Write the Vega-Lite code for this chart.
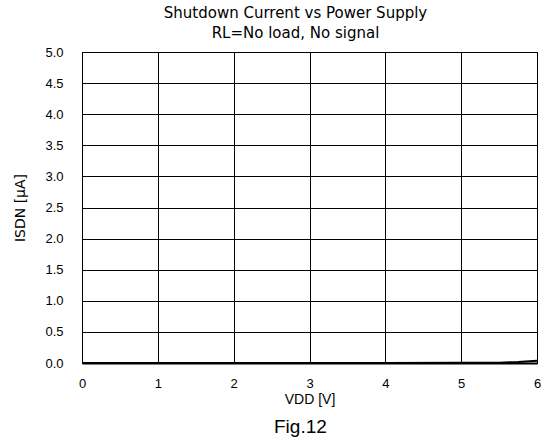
{
  "$schema": "https://vega.github.io/schema/vega-lite/v6.json",
  "width": 455,
  "height": 311,
  "autosize": {"type": "none"},
  "padding": {"left": 82, "top": 52, "right": 6, "bottom": 80},
  "background": "white",
  "title": {
    "text": ["Shutdown Current vs Power Supply", "RL=No load, No signal"],
    "font": "DejaVu Sans",
    "fontSize": 15,
    "fontWeight": "normal",
    "lineHeight": 20,
    "color": "black",
    "anchor": "middle",
    "offset": 5,
    "dx": -14
  },
  "config": {
    "view": {"stroke": "black", "strokeWidth": 1},
    "axis": {
      "labelFont": "Liberation Sans",
      "labelFontSize": 13,
      "labelColor": "black",
      "labelOverlap": false,
      "labelFlush": false,
      "titleFont": "DejaVu Sans",
      "titleFontSize": 14,
      "titleFontWeight": "normal",
      "titleColor": "black",
      "grid": true,
      "gridColor": "black",
      "gridOpacity": 1,
      "gridWidth": 1,
      "tickSize": 0,
      "domainColor": "black"
    }
  },
  "layer": [
    {
      "data": {
        "values": [
          {"vdd": 0, "isdn": 0.0},
          {"vdd": 1, "isdn": 0.0},
          {"vdd": 2, "isdn": 0.0},
          {"vdd": 3, "isdn": 0.0},
          {"vdd": 4, "isdn": 0.001},
          {"vdd": 5, "isdn": 0.003},
          {"vdd": 5.5, "isdn": 0.006},
          {"vdd": 5.75, "isdn": 0.015},
          {"vdd": 6, "isdn": 0.035}
        ]
      },
      "mark": {"type": "line", "color": "black", "strokeWidth": 2},
      "encoding": {
        "x": {
          "field": "vdd",
          "type": "quantitative",
          "scale": {"domain": [0, 6], "nice": false, "zero": false},
          "axis": {
            "values": [0, 1, 2, 3, 4, 5, 6],
            "format": "d",
            "labelPadding": 14,
            "domainWidth": 2,
            "title": "VDD [V]",
            "titleY": 36,
            "titleBaseline": "middle",
            "titleFont": "Liberation Sans",
            "titleFontSize": 14
          }
        },
        "y": {
          "field": "isdn",
          "type": "quantitative",
          "scale": {"domain": [0, 5], "nice": false, "zero": false},
          "axis": {
            "values": [0, 0.5, 1, 1.5, 2, 2.5, 3, 3.5, 4, 4.5, 5],
            "format": ".1f",
            "labelPadding": 19,
            "title": "ISDN [μA]",
            "titleX": -62,
            "titleBaseline": "middle"
          }
        }
      }
    },
    {
      "data": {"values": [{"caption": "Fig.12", "xpos": 2.88, "ypos": -1.03}]},
      "mark": {"type": "text", "font": "Liberation Sans", "fontSize": 19, "color": "black", "baseline": "middle", "align": "center"},
      "encoding": {
        "x": {
          "field": "xpos",
          "type": "quantitative",
          "axis": {
            "values": [0, 1, 2, 3, 4, 5, 6],
            "format": "d",
            "labelPadding": 14,
            "domainWidth": 2,
            "title": "VDD [V]",
            "titleY": 36,
            "titleBaseline": "middle",
            "titleFont": "Liberation Sans",
            "titleFontSize": 14
          }
        },
        "y": {
          "field": "ypos",
          "type": "quantitative",
          "axis": {
            "values": [0, 0.5, 1, 1.5, 2, 2.5, 3, 3.5, 4, 4.5, 5],
            "format": ".1f",
            "labelPadding": 19,
            "title": "ISDN [μA]",
            "titleX": -62,
            "titleBaseline": "middle"
          }
        },
        "text": {"field": "caption"}
      }
    }
  ]
}
